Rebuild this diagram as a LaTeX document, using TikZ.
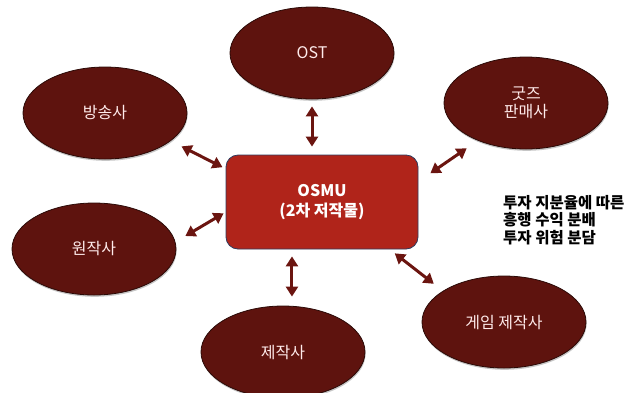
\documentclass[tikz,border=0pt]{standalone}
\usepackage{fontspec}
\newfontfamily\krfont{Noto Sans CJK KR}
\usetikzlibrary{shapes.geometric, arrows.meta, shadows}
\definecolor{osmuMaroon}{HTML}{5E130E}
\definecolor{osmuEdge}{HTML}{2B0A07}
\definecolor{osmuRed}{HTML}{B0241A}
\definecolor{osmuNavy}{HTML}{2E3B5E}
\definecolor{osmuArrow}{HTML}{6B1510}
\tikzset{
  osmu party/.style={
    ellipse, draw=osmuEdge, line width=0.8pt, fill=osmuMaroon,
    minimum width=164pt, minimum height=92pt, inner sep=0pt,
    text=white!92!red, align=center,
    font=\krfont\fontsize{16}{18}\selectfont,
    drop shadow={shadow xshift=0.6pt, shadow yshift=-1.8pt, opacity=0.45}
  },
  osmu hub/.style={
    rectangle, rounded corners=12pt, draw=osmuNavy, line width=0.8pt,
    fill=osmuRed, minimum width=192pt, minimum height=94pt, inner sep=0pt,
    text=white, align=center,
    font=\krfont\bfseries\fontsize{16}{20}\selectfont
  },
  osmu arrow/.style={
    {Triangle[width=12pt,length=10pt]}-{Triangle[width=12pt,length=10pt]},
    line width=3pt, draw=osmuArrow
  },
  osmu note/.style={
    anchor=west, inner sep=0pt, align=left,
    font=\krfont\bfseries\fontsize{15.5}{17.5}\selectfont
  }
}
\begin{document}
\begin{tikzpicture}[x=1pt, y=-1pt]
  \useasboundingbox (0,0) rectangle (635,392);
  % Hub: the secondary work
  \node (osmu) [osmu hub] at (322,202) {OSMU\\(2차 저작물)};
  % Parties around the hub
  \node (ost) [osmu party] at (312,53) {OST};
  \node (bcast) [osmu party] at (105,113) {방송사};
  \node (goods) [osmu party] at (526,103) {굿즈\\판매사};
  \node (orig) [osmu party] at (94,249) {원작사};
  \node (prod) [osmu party] at (283,352) {제작사};
  \node (game) [osmu party] at (504,322) {게임 제작사};
  % Side note
  \node (note) [osmu note] at (503,220) {투자 지분율에 따른\\흥행 수익 분배\\투자 위험 분담};

  % Two-way links
  \draw [osmu arrow, shorten <=7pt, shorten >=8pt] (ost.south) -- (ost.south |- osmu.north);
  \draw [osmu arrow, shorten <=12pt, shorten >=3.5pt] (bcast.-23) -- (osmu.161);
  \draw [osmu arrow, shorten <=13.5pt, shorten >=14.5pt] (goods.-142) -- (osmu.12);
  \draw [osmu arrow, shorten <=11.5pt, shorten >=2.3pt] (orig.5) -- (osmu.186);
  \draw [osmu arrow, shorten <=7pt, shorten >=9.3pt] (osmu.south -| prod.79) -- (prod.79);
  \draw [osmu arrow, shorten <=6.4pt, shorten >=11.5pt] (osmu.-35) -- (game.153);
\end{tikzpicture}
\end{document}
